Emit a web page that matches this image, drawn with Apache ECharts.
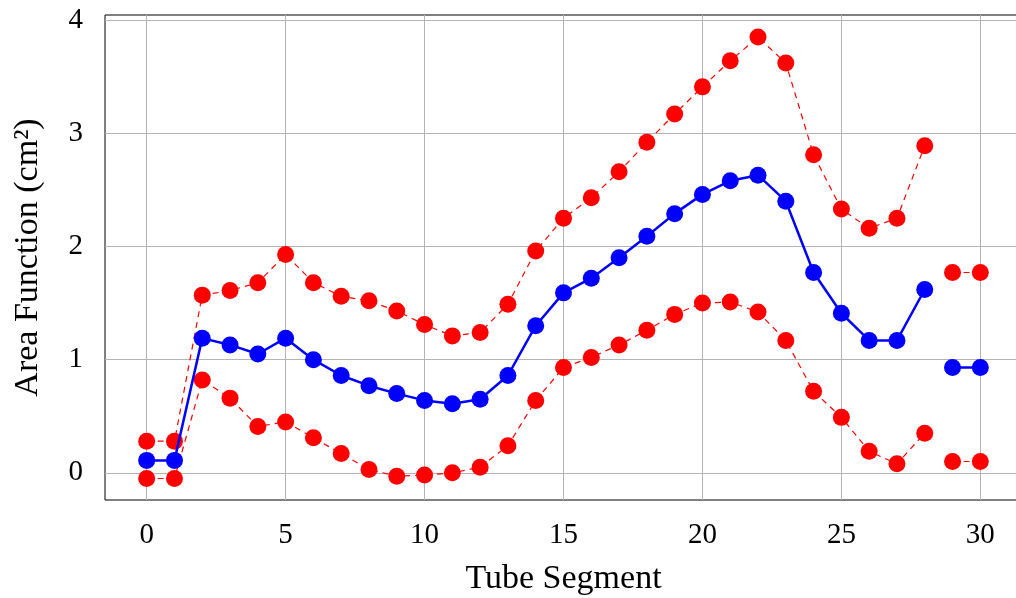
<!DOCTYPE html>
<html>
<head>
<meta charset="utf-8">
<script src="https://cdn.jsdelivr.net/npm/echarts@6/dist/echarts.min.js"></script>
<style>
  html, body { margin: 0; padding: 0; background: #fff; }
  #chart { width: 1016px; height: 598px; }
</style>
</head>
<body>
<div id="chart"></div>
<script>
// Tube segment index along the tract
const segments = [0,1,2,3,4,5,6,7,8,9,10,11,12,13,14,15,16,17,18,19,20,21,22,23,24,25,26,27,28,29,30];

// Mean area function and its upper / lower bounds (cm^2)
const meanArea  = [0.11,0.11,1.19,1.13,1.05,1.19,1.00,0.86,0.77,0.70,0.64,0.61,0.65,0.86,1.30,1.59,1.72,1.90,2.09,2.29,2.46,2.58,2.63,2.40,1.77,1.41,1.17,1.17,1.62,0.93,0.93];
const upperArea = [0.28,0.28,1.57,1.61,1.68,1.93,1.68,1.56,1.52,1.43,1.31,1.21,1.24,1.49,1.96,2.25,2.43,2.66,2.92,3.17,3.41,3.64,3.85,3.62,2.81,2.33,2.16,2.25,2.89,1.77,1.77];
const lowerArea = [-0.05,-0.05,0.82,0.66,0.41,0.45,0.31,0.17,0.03,-0.03,-0.02,0.00,0.05,0.24,0.64,0.93,1.02,1.13,1.26,1.40,1.50,1.51,1.42,1.17,0.72,0.49,0.19,0.08,0.35,0.10,0.10];

// Lines are drawn as separate runs (no connection between 28 and 29)
const runs = [[0, 28], [29, 30]];

// Tick labels
const xTicks = [0, 5, 10, 15, 20, 25, 30];
const yTicks = [0, 1, 2, 3, 4];

const FONT = '"Liberation Serif", "Times New Roman", serif';
const GRID_COLOR = '#b4b4b4';

function runData(values, run) {
  const out = [];
  for (let i = run[0]; i <= run[1]; i++) out.push([segments[i], values[i]]);
  return out;
}

function buildSeries(values, color, dashed, width, z) {
  return runs.map(run => ({
    type: 'line',
    data: runData(values, run),
    symbol: 'circle',
    symbolSize: 17,
    z: z,
    itemStyle: { color: color, borderWidth: 0 },
    lineStyle: { color: color, width: width, type: dashed ? [6, 5] : 'solid' },
    emphasis: { disabled: true },
    animation: false
  }));
}

const chart = echarts.init(document.getElementById('chart'), null, { renderer: 'canvas' });

chart.setOption({
  backgroundColor: '#fff',
  animation: false,
  grid: {
    left: 105, top: 15, width: 917, height: 485,
    outerBoundsMode: 'none',
    containLabel: false,
    show: true, borderColor: '#000', borderWidth: 1, backgroundColor: 'transparent'
  },
  xAxis: {
    type: 'value',
    min: -1.5, max: 31.5,
    name: 'Tube Segment',
    nameLocation: 'middle',
    nameGap: 62,
    nameTextStyle: { fontFamily: FONT, fontSize: 34, color: '#000' },
    axisLine: { show: false },
    axisTick: { show: true, inside: false, length: 11, customValues: xTicks, lineStyle: { color: GRID_COLOR, width: 1 } },
    axisLabel: { customValues: xTicks, fontFamily: FONT, fontSize: 29, color: '#000', margin: 21 },
    splitLine: { show: true, lineStyle: { color: GRID_COLOR, width: 1 } }
  },
  yAxis: {
    type: 'value',
    min: -0.24, max: 4.045,
    name: 'Area Function (cm²)',
    nameLocation: 'middle',
    nameGap: 60,
    nameRotate: 90,
    nameTextStyle: { fontFamily: FONT, fontSize: 34, color: '#000' },
    axisLine: { show: false },
    axisTick: { show: true, inside: false, length: 11, customValues: yTicks, lineStyle: { color: GRID_COLOR, width: 1 } },
    axisLabel: { customValues: yTicks, fontFamily: FONT, fontSize: 29, color: '#000', margin: 22 },
    splitLine: { show: true, lineStyle: { color: GRID_COLOR, width: 1 } }
  },
  series: [].concat(
    buildSeries(upperArea, '#ff0000', true, 1.2, 2),
    buildSeries(lowerArea, '#ff0000', true, 1.2, 2),
    buildSeries(meanArea, '#0000ff', false, 2.5, 3)
  )
});
</script>
</body>
</html>
